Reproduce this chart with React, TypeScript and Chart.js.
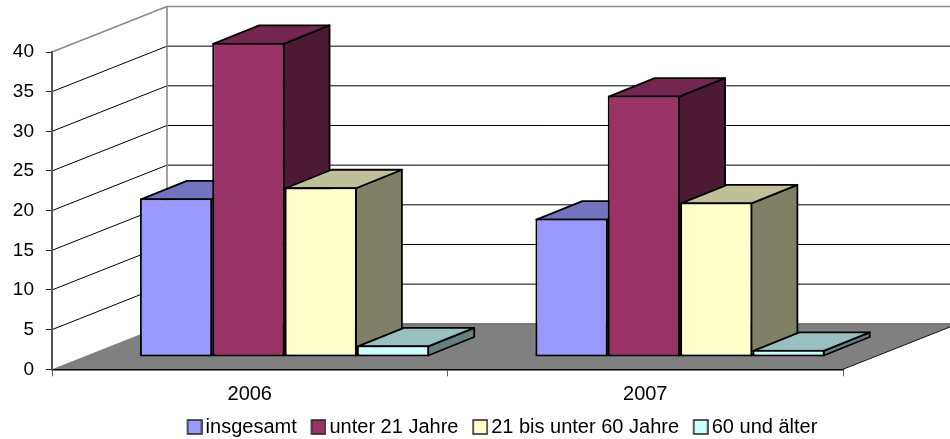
import React, { useEffect, useRef } from "react";
import { Chart, registerables } from "chart.js";

Chart.register(...registerables);

const categories = ["2006", "2007"];
const seriesNames = ["insgesamt", "unter 21 Jahre", "21 bis unter 60 Jahre", "60 und älter"];
const insgesamt = [20, 17.45];
const unter21 = [39.6, 32.95];
const bis60 = [21.4, 19.5];
const ab60 = [1.47, 0.9];
const frontColors = ["#9999FF", "#993366", "#FFFFCC", "#CCFFFF"];
const topColors = ["#7373BF", "#732650", "#BFBF99", "#99BFBF"];
const sideColors = ["#4D4D80", "#4D1A33", "#808066", "#668080"];
const yTicks = [0, 5, 10, 15, 20, 25, 30, 35, 40];

const WALL = { dx: 115, dy: -45.5 };
const OFFSET = { dx: 34.8, dy: -12.3 };
const DEPTH = { dx: 46, dy: -18.5 };
const BORDER = 2;
const FAMILY = "'Liberation Sans', Arial, sans-serif";

function poly(ctx: CanvasRenderingContext2D, pts: number[][], fill?: string, stroke?: string, lw = 1) {
  ctx.beginPath();
  pts.forEach((p, i) => (i ? ctx.lineTo(p[0], p[1]) : ctx.moveTo(p[0], p[1])));
  ctx.closePath();
  if (fill) {
    ctx.fillStyle = fill;
    ctx.fill();
  }
  if (stroke) {
    ctx.strokeStyle = stroke;
    ctx.lineWidth = lw;
    ctx.lineJoin = "round";
    ctx.stroke();
  }
}

function line(ctx: CanvasRenderingContext2D, x0: number, y0: number, x1: number, y1: number, color: string, lw = 1) {
  ctx.beginPath();
  ctx.moveTo(x0, y0);
  ctx.lineTo(x1, y1);
  ctx.strokeStyle = color;
  ctx.lineWidth = lw;
  ctx.stroke();
}

function swatch(color: string) {
  // The blank left part moves the box toward its text, because the legend centres the image.
  const c = document.createElement("canvas");
  c.width = 22;
  c.height = 16;
  const g = c.getContext("2d")!;
  g.fillStyle = color;
  g.fillRect(7, 1, 14, 14);
  g.strokeStyle = "#222";
  g.lineWidth = 1.5;
  g.strokeRect(7, 1, 14, 14);
  return c;
}

const wallsPlugin = {
  id: "walls",
  beforeDraw(chart: any) {
    const { ctx, chartArea, scales } = chart;
    const { left, right, bottom } = chartArea;
    const y = scales.y;
    const zero = y.getPixelForValue(0);
    ctx.save();
    poly(ctx, [
      [left, zero],
      [left + WALL.dx, zero + WALL.dy],
      [right + WALL.dx, zero + WALL.dy],
      [right, zero],
    ], "#808080");
    line(ctx, left + WALL.dx, zero + WALL.dy, right + WALL.dx, zero + WALL.dy, "#555", 1);
    line(ctx, right, bottom, right + WALL.dx, bottom + WALL.dy, "#111", 1);
    yTicks.slice(1).forEach((v, i) => {
      const py = y.getPixelForValue(v);
      const top = i === yTicks.length - 2;
      const color = top ? "#8a8a8a" : "#000";
      const lw = top ? 1.6 : 1;
      line(ctx, left, py, left + WALL.dx, py + WALL.dy, color, lw);
      line(ctx, left + WALL.dx, py + WALL.dy, right + WALL.dx, py + WALL.dy, color, lw);
    });
    line(ctx, left + WALL.dx, y.getPixelForValue(40) + WALL.dy, left + WALL.dx, zero + WALL.dy, "#8a8a8a", 1.6);
    ctx.restore();
  },
  afterLayout(chart: any) {
    const lg = chart.legend;
    const shiftX = 81;
    const shiftY = 447 - lg.bottom;
    lg.left += shiftX;
    lg.right += shiftX;
    lg.top += shiftY;
    lg.bottom += shiftY;
    chart.scales.x.bottom += 40;
  },
  // Bars are painted left to right, so each bar's front covers the previous bar's side.
  beforeDatasetsDraw(chart: any) {
    const { ctx } = chart;
    const inset = BORDER / 2;
    seriesNames.forEach((_, i) => {
      const meta = chart.getDatasetMeta(i);
      ctx.save();
      ctx.translate(OFFSET.dx, OFFSET.dy);
      meta.data.forEach((bar: any) => {
        const p = bar.getProps(["x", "y", "base", "width"], true);
        const l = p.x - p.width / 2 + inset;
        const r = p.x + p.width / 2 - inset;
        const y = p.y + inset;
        const base = p.base - inset;
        poly(ctx, [
          [r, y],
          [r + DEPTH.dx, y + DEPTH.dy],
          [r + DEPTH.dx, base + DEPTH.dy],
          [r, base],
        ], sideColors[i], "#000", 1.8);
        poly(ctx, [
          [l, y],
          [l + DEPTH.dx, y + DEPTH.dy],
          [r + DEPTH.dx, y + DEPTH.dy],
          [r, y],
        ], topColors[i], "#000", 1.8);
      });
      meta.controller.draw();
      ctx.restore();
    });
    return false;
  },
};

export default function App() {
  const ref = useRef<HTMLCanvasElement>(null);
  useEffect(() => {
    const values = [insgesamt, unter21, bis60, ab60];
    const chart = new Chart(ref.current!, {
      type: "bar",
      data: {
        labels: categories,
        datasets: seriesNames.map((label, i) => ({
          label,
          data: values[i],
          backgroundColor: frontColors[i],
          borderColor: "#000",
          borderWidth: BORDER,
          borderSkipped: false,
          barPercentage: 1,
          categoryPercentage: 0.7315,
        })),
      } as any,
      plugins: [wallsPlugin],
      options: {
        responsive: false,
        animation: false,
        layout: { padding: { top: 52, right: 107, left: 0, bottom: 0 } },
        plugins: {
          tooltip: { enabled: false },
          legend: {
            position: "bottom",
            labels: {
              color: "#000",
              font: { family: FAMILY, size: 20 },
              padding: 14.7,
              usePointStyle: true,
              pointStyleWidth: 8,
              generateLabels: () =>
                seriesNames.map((text, i) => ({
                  text,
                  datasetIndex: i,
                  pointStyle: swatch(frontColors[i]),
                  fillStyle: frontColors[i],
                  strokeStyle: "#000",
                  lineWidth: 1,
                  hidden: false,
                })),
            },
          },
        },
        scales: {
          x: {
            grid: { drawOnChartArea: false, offset: true, tickLength: 7, tickColor: "#666", tickWidth: 1 },
            border: { color: "#000", width: 1.5 },
            ticks: { color: "#000", font: { family: FAMILY, size: 20 }, padding: 6, maxRotation: 0 },
            afterFit: (s: any) => {
              s.height = 69.7 - (s.chart.legend?.height || 0);
            },
          },
          y: {
            min: 0,
            max: 40,
            grid: { drawOnChartArea: false, tickLength: 6, tickColor: "#222", tickWidth: 1 },
            border: { color: "#555", width: 2 },
            ticks: { color: "#000", font: { family: FAMILY, size: 19 }, padding: 12, stepSize: 5, callback: (v: any) => (yTicks.includes(v) ? String(v) : "") },
            afterFit: (s: any) => {
              s.width = 52;
            },
          },
        },
      },
    } as any);
    return () => chart.destroy();
  }, []);
  return <canvas ref={ref} width={950} height={439} style={{ position: "fixed", left: 0, top: 0, display: "block" }} />;
}
